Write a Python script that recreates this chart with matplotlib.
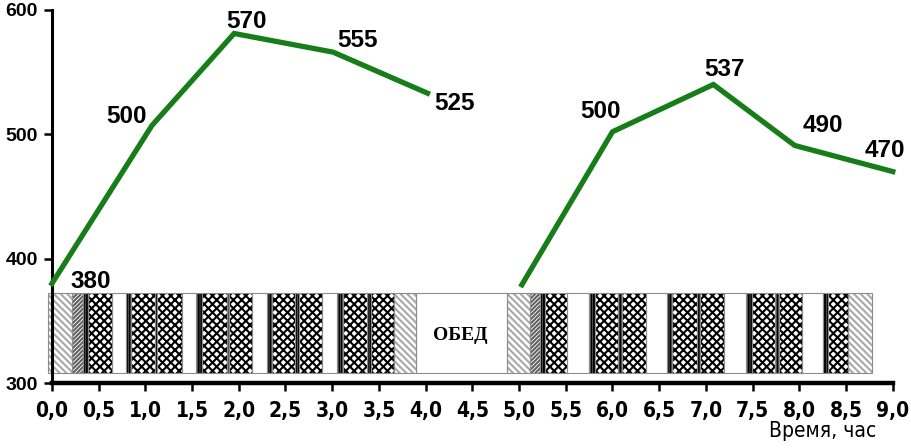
import matplotlib
matplotlib.use("Agg")
import matplotlib.pyplot as plt
from matplotlib import font_manager

# line points as they sit in the picture, and the numbers written beside them
morning_x = [0.0, 1.07, 1.95, 3.01, 4.02]
morning_y = [380, 507, 581, 566, 533]
evening_x = [5.03, 6.0, 7.08, 7.95, 9.0]
evening_y = [379, 502, 540, 491, 470]

label_text = ["380", "500", "570", "555", "525", "500", "537", "490", "470"]
label_x = [0.42, 0.80, 2.08, 3.27, 4.31, 5.87, 7.20, 8.25, 8.92]
label_y = [382, 514, 591, 575, 525, 518, 552, 507, 487]

# activity band under the curve: segment edges (hours) and fill kind
band_edges = [-0.04, 0.214, 0.332, 0.385, 0.642, 0.792, 0.846, 1.103, 1.124, 1.392,
              1.542, 1.606, 1.874, 1.895, 2.141, 2.302, 2.355, 2.602, 2.645, 2.891,
              3.051, 3.116, 3.373, 3.415, 3.662, 3.897, 4.872, 5.118, 5.225, 5.278,
              5.514, 5.749, 5.814, 6.06, 6.103, 6.36, 6.585, 6.638, 6.906, 6.938,
              7.195, 7.43, 7.495, 7.741, 7.784, 8.03, 8.255, 8.308, 8.522, 8.78]
band_kind = ["wave", "diag", "vert", "check", "blank", "vert", "check", "vert", "check",
             "blank", "vert", "check", "vert", "check", "blank", "vert", "check", "vert",
             "check", "blank", "vert", "check", "vert", "check", "wave", "blank",
             "wave", "diag", "vert", "check", "blank", "vert", "check", "vert", "check",
             "blank", "vert", "check", "vert", "check", "blank", "vert", "check", "vert",
             "check", "blank", "vert", "check", "wave"]
band_bottom, band_top = 308, 372.4

hatch_of = {"wave": "\\" * 5, "diag": "/" * 8, "vert": "|" * 7, "check": "x" * 4, "blank": ""}
hatch_col = {"wave": "#a8a8a8", "diag": "#606060", "vert": "black", "check": "black", "blank": "white"}

# pick a condensed sans for axis text if one is installed
names = {f.name for f in font_manager.fontManager.ttflist}
narrow = dict(family=["Liberation Sans", "DejaVu Sans"])
if "Liberation Sans Narrow" in names:
    narrow = dict(family=["Liberation Sans Narrow", "DejaVu Sans"])
elif any(f.name == "DejaVu Sans" and f.stretch == "condensed" for f in font_manager.fontManager.ttflist):
    narrow = dict(family=["DejaVu Sans"], stretch="condensed")

plt.rcParams["hatch.linewidth"] = 1.5

fig = plt.figure(figsize=(9.11, 4.48), dpi=100)
ax = fig.add_axes([0.057, 0.145, 0.923, 0.833])

for i, kind in enumerate(band_kind):
    x0, x1 = band_edges[i], band_edges[i + 1]
    ax.bar(x0, band_top - band_bottom, width=x1 - x0, bottom=band_bottom, align="edge",
           color="white", edgecolor=hatch_col[kind], hatch=hatch_of[kind], linewidth=0,
           zorder=1, clip_on=False)
    ax.bar(x0, band_top - band_bottom, width=x1 - x0, bottom=band_bottom, align="edge",
           fill=False, edgecolor="#8c8c8c", linewidth=0.8, zorder=2, clip_on=False)

ax.text(4.37, 338, "ОБЕД", ha="center", va="center", fontsize=14, fontweight="bold",
        family=["Liberation Serif", "DejaVu Serif"], zorder=3)

green = "#177d19"
ax.plot(morning_x, morning_y, color=green, lw=3.8, solid_joinstyle="miter", zorder=4, clip_on=False)
ax.plot(evening_x, evening_y, color=green, lw=3.8, solid_joinstyle="miter", zorder=4, clip_on=False)

for t, x, y in zip(label_text, label_x, label_y):
    ax.text(x, y, t, ha="center", va="center", fontsize=17.5, fontweight="bold",
            family=["Liberation Sans", "DejaVu Sans"], zorder=5)

ax.set_xlim(0, 9)
ax.set_ylim(300, 600)
xt = [i * 0.5 for i in range(19)]
ax.set_xticks(xt)
ax.set_xticklabels([f"{v:.1f}".replace(".", ",") for v in xt], fontsize=15, fontweight="bold", **narrow)
ax.set_yticks([300, 400, 500, 600])
ax.set_yticklabels(["300", "400", "500", "600"], fontsize=14, fontweight="bold",
                   family=["Liberation Sans", "DejaVu Sans"])

for s in ["top", "right"]:
    ax.spines[s].set_visible(False)
ax.spines["bottom"].set_linewidth(3.2)
ax.spines["left"].set_linewidth(2.2)
ax.tick_params(axis="x", direction="out", length=6, width=1.8, pad=7)
ax.tick_params(axis="y", direction="out", length=6, width=1.8, pad=4)

fig.text(0.962, 0.015, "Время, час", ha="right", va="bottom", fontsize=15, **narrow)

fig.savefig("out.png", dpi=100)
